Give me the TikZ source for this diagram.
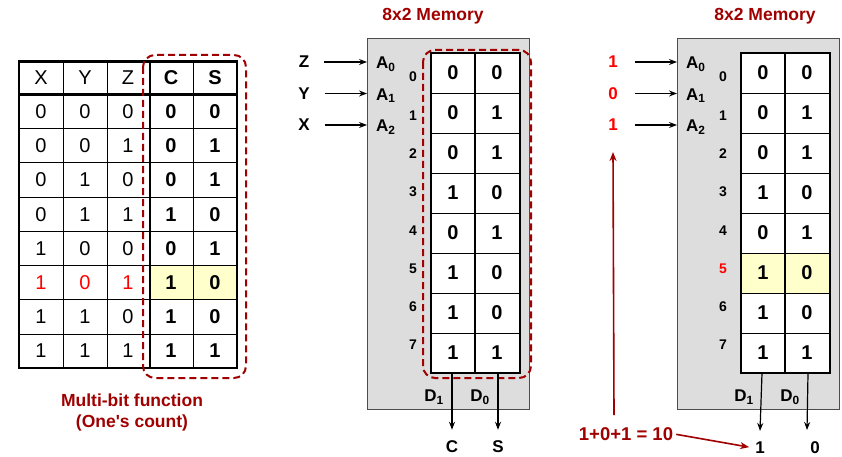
\documentclass[tikz,border=0pt]{standalone}
\usepackage{fontspec}
\setmainfont{Liberation Sans}
\usetikzlibrary{arrows.meta,positioning}
\definecolor{darkred}{RGB}{160,0,0}
\definecolor{memgray}{RGB}{221,221,221}
\definecolor{hilite}{RGB}{255,255,204}
\tikzset{
  plainbit/.style={inner sep=0pt,font=\fontsize{20}{23}\selectfont},
  bit/.style={inner sep=0pt,font=\fontsize{20}{23}\selectfont\bfseries},
  lbl/.style={inner sep=1pt,font=\fontsize{17}{20}\selectfont\bfseries},
  rownum/.style={inner sep=0pt,font=\fontsize{14}{16}\selectfont\bfseries},
  memtitle/.style={font=\fontsize{17.5}{21}\selectfont\bfseries,text=darkred},
  selbox/.style={draw=darkred,line width=2pt,dash pattern=on 7pt off 4pt,rounded corners=12pt},
  thickline/.style={line width=2.5pt},
  thinline/.style={line width=0.8pt},
  inarrow/.style={line width=1.2pt,-{Stealth[length=8pt,width=6pt]}},
  redarrow/.style={draw=darkred,line width=1.6pt,-{Stealth[length=9pt,width=7pt]}}
}
\begin{document}
\begin{tikzpicture}[x=1pt,y=-1pt]
  \useasboundingbox (0,0) rectangle (842,457);
  % truth table
  \fill[hilite] (150,265.5) rectangle (237,299.7);
  \foreach \i in {1,...,7} \draw[thinline] (19,94.5+34.2*\i) -- (237,94.5+34.2*\i);
  \foreach \x in {63,107,193} \draw[thinline] (\x,61.5) -- (\x,368.1);
  \draw[thickline] (150,61.5) -- (150,368.1);
  \draw[thickline] (19,94.5) -- (237,94.5);
  \draw[thickline] (19,61.5) rectangle (237,368.1);
  \node[plainbit] (hx) at (41,78) {X};
  \node[plainbit] (hy) at (85,78) {Y};
  \node[plainbit] (hz) at (128,78) {Z};
  \node[bit] (hc) at (171,78) {C};
  \node[bit] (hs) at (215,78) {S};
  \foreach \x/\y/\z/\c/\s [count=\i from 0] in {0/0/0/0/0,0/0/1/0/1,0/1/0/0/1,0/1/1/1/0,
      1/0/0/0/1,1/0/1/1/0,1/1/0/1/0,1/1/1/1/1} {
    \ifnum\i=5 \def\rc{red}\else\def\rc{black}\fi
    \node[plainbit,text=\rc] (t\i x) at (41,111.6+34.2*\i) {\x};
    \node[plainbit,text=\rc] (t\i y) at (85,111.6+34.2*\i) {\y};
    \node[plainbit,text=\rc] (t\i z) at (128,111.6+34.2*\i) {\z};
    \node[bit] (t\i c) at (171,111.6+34.2*\i) {\c};
    \node[bit] (t\i s) at (215,111.6+34.2*\i) {\s};
  }
  \draw[selbox] (143,55) rectangle (246,378);
  \node[memtitle,align=center] (func) at (132,412) {Multi-bit function\\(One\textquotesingle s count)};
  % the two memories
  \foreach \ox/\m/\tx in {0/p/433,310/q/765} {
    \draw[black!70,fill=memgray] (367+\ox,38) rectangle (529+\ox,409);
    \node[memtitle] (\m title) at (\tx,16) {8x2 Memory};
    \fill[white] (431+\ox,53) rectangle (520+\ox,373);
    \ifnum\ox>0 \fill[hilite] (431+\ox,253) rectangle (520+\ox,293); \fi
    \foreach \i in {1,...,7} \draw[thinline] (431+\ox,53+40*\i) -- (520+\ox,53+40*\i);
    \draw[thickline] (475+\ox,53) -- (475+\ox,373);
    \draw[thickline] (431+\ox,53) rectangle (520+\ox,373);
    \foreach \c/\s [count=\i from 0] in {0/0,0/1,0/1,1/0,0/1,1/0,1/0,1/1} {
      \node[bit] (\m\i c) at (453+\ox,73+40*\i) {\c};
      \node[bit] (\m\i s) at (497+\ox,73+40*\i) {\s};
      \ifnum\ox>0 \ifnum\i=5 \def\rc{red}\else\def\rc{black}\fi \else\def\rc{black}\fi
      \node[rownum,text=\rc] (\m\i n) at (413+\ox,77+38.3*\i) {\i};
    }
    \foreach \j in {0,1,2} {
      \node[lbl,anchor=west] (\m a\j) at (375+\ox,64+31.5*\j) {A\textsubscript{\j}};
      \coordinate (\m in\j) at (367+\ox,62+31.5*\j);
    }
    \node[lbl] (\m d1) at (434+\ox,397) {D\textsubscript{1}};
    \node[lbl] (\m d0) at (480+\ox,397) {D\textsubscript{0}};
    \coordinate (\m out1) at (452+\ox,373);
    \coordinate (\m out0) at (498+\ox,373);
  }
  \draw[selbox] (423,50) rectangle (531,378);
  % inputs and outputs of the first memory
  \node[lbl] (pz) at (304,62) {Z};
  \node[lbl] (py) at (304,93.5) {Y};
  \node[lbl] (px) at (304,125) {X};
  \foreach \v/\j in {z/0,y/1,x/2} \draw[inarrow,shorten <=14pt] (p\v.east) -- (pin\j);
  \node[lbl] (pc) at (452,447) {C};
  \node[lbl] (ps) at (498,447) {S};
  \draw[inarrow] (pout1) -- ([yshift=10pt]pc.north);
  \draw[inarrow] (pout0) -- ([yshift=10pt]ps.north);
  % inputs and outputs of the second memory
  \node[lbl,text=red] (qv0) at (613,62) {1};
  \node[lbl,text=red] (qv1) at (613,93.5) {0};
  \node[lbl,text=red] (qv2) at (613,125) {1};
  \foreach \j in {0,1,2} \draw[inarrow,shorten <=16pt] (qv\j.east) -- (qin\j);
  \node[lbl] (qo1) at (760,448) {1};
  \node[lbl] (qo0) at (815,448) {0};
  \draw[inarrow] (qout1) -- ([yshift=10pt]qo1.north);
  \draw[inarrow] (qout0) -- (807,430);
  \node[lbl,text=darkred,font=\fontsize{18.5}{21}\selectfont\bfseries] (sum) at (626,434) {1+0+1 = 10};
  \draw[redarrow] ([xshift=-12pt,yshift=19pt]sum.center) -- ([yshift=-20pt]qv2.south);
  \draw[redarrow,shorten <=2pt,shorten >=5pt] (sum.east) -- (qo1.west);
\end{tikzpicture}
\end{document}
